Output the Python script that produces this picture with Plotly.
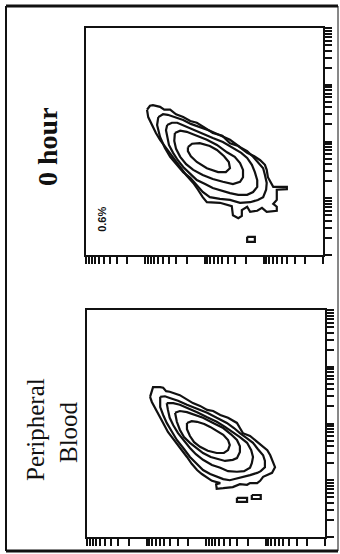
import math
import plotly.graph_objects as go

# Two-colour flow cytometry contour plots, log10 fluorescence (4 decades).
# fl_a runs right-to-left, fl_b runs bottom-to-top.

# ---- 0 hour ---------------------------------------------------------------
h0_lvl1_a = [2.97, 2.92, 2.87, 2.75, 2.68, 2.58, 2.48, 2.36, 2.24, 2.13, 1.99, 1.86, 1.70, 1.57, 1.43,
             1.28, 1.16, 1.06, 0.98, 0.95, 0.93, 0.89, 0.84, 0.61, 0.61, 0.78, 0.78, 0.84, 0.78, 0.78,
             0.95, 1.03, 1.11, 1.23, 1.28, 1.37, 1.37, 1.43, 1.52, 1.54, 1.74, 1.96, 2.03, 2.11, 2.19,
             2.31, 2.41, 2.50, 2.58, 2.67, 2.75, 2.82, 2.87, 2.92, 2.95]
h0_lvl1_b = [2.56, 2.63, 2.64, 2.61, 2.56, 2.56, 2.48, 2.43, 2.36, 2.33, 2.24, 2.15, 2.10, 1.97, 1.92,
             1.80, 1.74, 1.67, 1.59, 1.50, 1.37, 1.29, 1.20, 1.20, 1.16, 1.15, 0.97, 0.90, 0.85, 0.78,
             0.76, 0.83, 0.78, 0.76, 0.85, 0.79, 0.69, 0.65, 0.70, 0.86, 0.92, 0.93, 1.02, 1.15, 1.27,
             1.41, 1.55, 1.67, 1.80, 1.92, 2.03, 2.15, 2.26, 2.38, 2.43]

h0_lvl2_a = [2.78, 2.70, 2.62, 2.50, 2.36, 2.23, 2.08, 1.91, 1.74, 1.57, 1.40, 1.28, 1.18, 1.10, 1.01,
             0.98, 0.95, 0.96, 1.01, 1.10, 1.23, 1.40, 1.57, 1.74, 1.91, 2.03, 2.13, 2.24, 2.36, 2.48,
             2.58, 2.67, 2.75, 2.80]
h0_lvl2_b = [2.43, 2.48, 2.47, 2.43, 2.38, 2.31, 2.26, 2.19, 2.11, 2.03, 1.90, 1.83, 1.73, 1.64, 1.53,
             1.41, 1.27, 1.15, 1.02, 0.97, 0.93, 0.92, 0.97, 0.99, 1.02, 1.11, 1.23, 1.36, 1.46, 1.60,
             1.73, 1.89, 2.08, 2.29]

h0_lvl3_a = [2.63, 2.55, 2.46, 2.33, 2.19, 2.03, 1.86, 1.69, 1.52, 1.38, 1.28, 1.20, 1.15, 1.11, 1.11,
             1.18, 1.28, 1.43, 1.57, 1.74, 1.86, 1.99, 2.13, 2.24, 2.36, 2.45, 2.53, 2.60, 2.63, 2.65]
h0_lvl3_b = [2.29, 2.33, 2.33, 2.27, 2.20, 2.13, 2.06, 1.99, 1.89, 1.80, 1.71, 1.59, 1.46, 1.32, 1.20,
             1.11, 1.06, 1.06, 1.09, 1.15, 1.18, 1.25, 1.32, 1.43, 1.55, 1.67, 1.80, 1.94, 2.08, 2.20]

h0_lvl4_a = [2.50, 2.41, 2.30, 2.13, 1.96, 1.79, 1.62, 1.49, 1.40, 1.35, 1.35, 1.40, 1.52, 1.69, 1.86,
             2.03, 2.19, 2.31, 2.41, 2.48, 2.51]
h0_lvl4_b = [2.15, 2.19, 2.17, 2.10, 2.03, 1.94, 1.81, 1.73, 1.62, 1.50, 1.37, 1.29, 1.25, 1.29, 1.34,
             1.41, 1.50, 1.60, 1.73, 1.87, 2.01]

h0_lvl5_a = [2.28, 2.21, 2.08, 1.91, 1.79, 1.67, 1.59, 1.57, 1.64, 1.77, 1.96, 2.13, 2.23, 2.28]
h0_lvl5_b = [1.90, 1.96, 1.97, 1.92, 1.85, 1.74, 1.64, 1.53, 1.46, 1.46, 1.53, 1.64, 1.74, 1.83]

h0_islet_a = [1.28, 1.15, 1.15, 1.28]
h0_islet_b = [0.32, 0.32, 0.23, 0.23]

h0_gate_pct = "0.6%"
h0_gate_a, h0_gate_b = 3.73, 0.62

# ---- Peripheral blood -----------------------------------------------------
pb_lvl1_a = [2.94, 2.91, 2.89, 2.77, 2.72, 2.67, 2.61, 2.44, 2.34, 2.22, 2.10, 1.98, 1.88, 1.76, 1.63,
             1.48, 1.43, 1.38, 1.26, 1.14, 1.06, 0.97, 0.92, 0.89, 0.84, 0.89, 1.04, 1.09, 1.14, 1.26,
             1.31, 1.43, 1.55, 1.71, 1.82, 1.83, 1.76, 1.90, 1.98, 2.07, 2.15, 2.24, 2.32, 2.44, 2.55,
             2.64, 2.72, 2.79, 2.86, 2.91]
pb_lvl1_b = [2.47, 2.59, 2.64, 2.64, 2.63, 2.57, 2.56, 2.50, 2.43, 2.36, 2.31, 2.24, 2.22, 2.15, 2.10,
             2.01, 1.92, 1.83, 1.78, 1.67, 1.60, 1.53, 1.44, 1.36, 1.23, 1.13, 1.06, 0.99, 0.95, 0.95,
             0.92, 0.93, 0.88, 0.86, 0.85, 0.93, 0.95, 0.99, 1.04, 1.11, 1.18, 1.29, 1.41, 1.57, 1.71,
             1.85, 2.01, 2.15, 2.29, 2.38]

pb_lvl2_a = [2.77, 2.69, 2.61, 2.47, 2.32, 2.15, 1.98, 1.82, 1.65, 1.53, 1.43, 1.31, 1.21, 1.13, 1.04,
             1.01, 1.01, 1.08, 1.14, 1.26, 1.38, 1.48, 1.60, 1.71, 1.82, 1.93, 2.05, 2.15, 2.27, 2.37,
             2.49, 2.57, 2.66, 2.72, 2.77]
pb_lvl2_b = [2.47, 2.48, 2.45, 2.40, 2.33, 2.26, 2.19, 2.10, 2.01, 1.92, 1.83, 1.74, 1.66, 1.55, 1.44,
             1.34, 1.23, 1.16, 1.13, 1.09, 1.06, 1.04, 1.00, 1.02, 1.06, 1.11, 1.18, 1.29, 1.41, 1.55,
             1.71, 1.85, 2.01, 2.15, 2.29]

pb_lvl3_a = [2.66, 2.55, 2.44, 2.30, 2.15, 1.98, 1.82, 1.68, 1.55, 1.43, 1.31, 1.24, 1.21, 1.23, 1.26,
             1.36, 1.48, 1.63, 1.76, 1.90, 2.05, 2.17, 2.27, 2.37, 2.47, 2.55, 2.61, 2.64]
pb_lvl3_b = [2.36, 2.36, 2.33, 2.27, 2.20, 2.11, 2.03, 1.94, 1.85, 1.76, 1.66, 1.53, 1.41, 1.30, 1.22,
             1.16, 1.15, 1.16, 1.22, 1.27, 1.36, 1.46, 1.57, 1.69, 1.83, 1.97, 2.10, 2.24]

pb_lvl4_a = [2.52, 2.44, 2.32, 2.18, 2.05, 1.88, 1.71, 1.58, 1.48, 1.43, 1.43, 1.48, 1.55, 1.68, 1.76,
             1.92, 2.05, 2.17, 2.27, 2.37, 2.44, 2.49]
pb_lvl4_b = [2.19, 2.22, 2.20, 2.15, 2.10, 2.01, 1.92, 1.81, 1.71, 1.60, 1.50, 1.39, 1.36, 1.34, 1.36,
             1.41, 1.48, 1.57, 1.66, 1.76, 1.89, 2.03]

pb_lvl5_a = [2.32, 2.24, 2.15, 2.03, 1.93, 1.82, 1.71, 1.63, 1.60, 1.63, 1.70, 1.82, 1.97, 2.10, 2.20,
             2.27, 2.32]
pb_lvl5_b = [2.01, 2.04, 2.03, 1.99, 1.94, 1.87, 1.80, 1.71, 1.62, 1.53, 1.48, 1.48, 1.52, 1.59, 1.67,
             1.78, 1.90]

pb_islet1_a = [1.48, 1.31, 1.31, 1.48]
pb_islet1_b = [0.69, 0.69, 0.62, 0.62]
pb_islet2_a = [1.23, 1.08, 1.08, 1.23]
pb_islet2_b = [0.74, 0.74, 0.67, 0.67]

panel_titles = ["0 hour", "Peripheral", "Blood"]
decades = 4

INK = "#111111"


def closed(seq):
    return list(seq) + [seq[0]]


fig = go.Figure()

panels = [
    ("x", "y", [(h0_lvl1_a, h0_lvl1_b), (h0_lvl2_a, h0_lvl2_b), (h0_lvl3_a, h0_lvl3_b),
                (h0_lvl4_a, h0_lvl4_b), (h0_lvl5_a, h0_lvl5_b), (h0_islet_a, h0_islet_b)]),
    ("x2", "y2", [(pb_lvl1_a, pb_lvl1_b), (pb_lvl2_a, pb_lvl2_b), (pb_lvl3_a, pb_lvl3_b),
                  (pb_lvl4_a, pb_lvl4_b), (pb_lvl5_a, pb_lvl5_b), (pb_islet1_a, pb_islet1_b),
                  (pb_islet2_a, pb_islet2_b)]),
]

for xa, ya, paths in panels:
    for a_vals, b_vals in paths:
        fig.add_trace(go.Scatter(
            x=closed(a_vals), y=closed(b_vals), xaxis=xa, yaxis=ya,
            mode="lines", line=dict(color=INK, width=2.2),
            hoverinfo="skip", showlegend=False,
        ))

# logarithmic decade tick positions
log_ticks = [d + math.log10(k) for d in range(decades) for k in range(1, 10)] + [decades]

W, H = 340, 554


def px_dom(lo, hi, size):
    return [lo / size, hi / size]


axis_common = dict(
    showgrid=False, zeroline=False, showline=True, mirror=True,
    linecolor=INK, linewidth=2, ticks="outside", ticklen=7, tickwidth=1.5,
    tickcolor=INK, tickmode="array", tickvals=log_ticks, showticklabels=False,
)

fig.update_layout(
    width=W, height=H,
    margin=dict(l=0, r=0, t=0, b=0),
    paper_bgcolor="white", plot_bgcolor="white",
    xaxis=dict(axis_common, domain=px_dom(86, 323, W), range=[decades, 0], anchor="y"),
    yaxis=dict(axis_common, domain=px_dom(H - 255, H - 28, H), range=[0, decades],
               side="right", anchor="x"),
    xaxis2=dict(axis_common, domain=px_dom(87, 325, W), range=[decades, 0], anchor="y2"),
    yaxis2=dict(axis_common, domain=px_dom(H - 537, H - 310, H), range=[0, decades],
                side="right", anchor="x2"),
)

serif = "Liberation Serif, Times New Roman, serif"
title_pos = [(47, 147, 28, True), (35, 430, 25, False), (68, 432, 25, False)]
for text, (tx, ty, size, bold) in zip(panel_titles, title_pos):
    fig.add_annotation(text=("<b>%s</b>" % text) if bold else text,
                       xref="paper", yref="paper", x=tx / W, y=(H - ty) / H,
                       xanchor="center", yanchor="middle",
                       showarrow=False, textangle=-90,
                       font=dict(family=serif, size=size, color=INK))

fig.add_annotation(text="<b>" + h0_gate_pct + "</b>", xref="x", yref="y",
                   x=h0_gate_a, y=h0_gate_b, xanchor="center", yanchor="middle",
                   showarrow=False, textangle=-90,
                   font=dict(family="Liberation Sans, Arial, sans-serif", size=11, color=INK))

# outer frame of the figure panel
frame = [
    (6, 6, 338, 6, 3), (6, 551, 338, 551, 3), (6, 6, 6, 551, 2), (338, 6, 338, 551, 1),
]
for x0, y0, x1, y1, w in frame:
    fig.add_shape(type="line", xref="paper", yref="paper",
                  x0=x0 / W, x1=x1 / W, y0=(H - y0) / H, y1=(H - y1) / H,
                  line=dict(color=INK, width=w))

fig.write_html("out.html")
